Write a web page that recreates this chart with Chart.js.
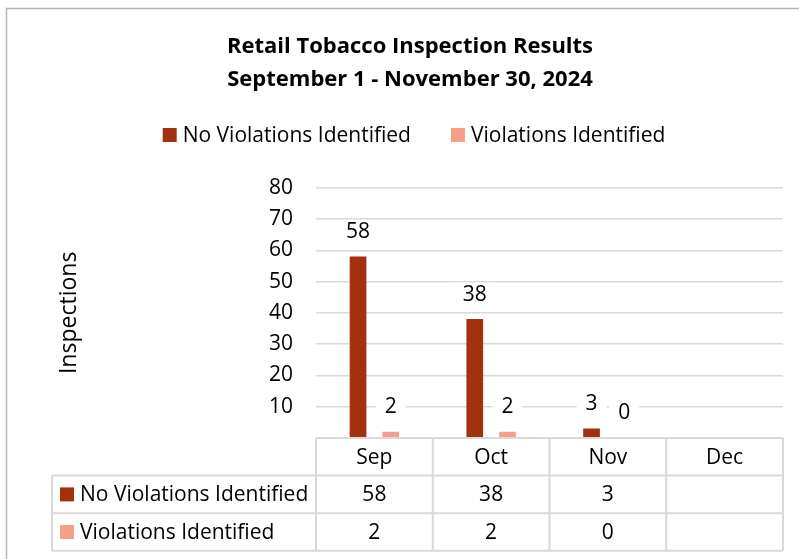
<!DOCTYPE html>
<html>
<head>
<meta charset="utf-8">
<script src="https://cdn.jsdelivr.net/npm/chart.js@4.4.1/dist/chart.umd.min.js"></script>
<style>
    html, body { margin: 0; padding: 0; background: #fff; }
    #wrap { width: 799px; height: 559px; position: relative; }
</style>
</head>
<body>
<div id="wrap"><canvas id="inspectionChart" width="799" height="559"></canvas></div>
<script>
// Datos del gráfico
const months = ['Sep', 'Oct', 'Nov', 'Dec'];
const noViolations = [58, 38, 3, null];
const violations = [2, 2, 0, null];
const seriesNames = ['No Violations Identified', 'Violations Identified'];
const seriesColors = ['#A3300F', '#F4A08A'];
const titleLines = ['Retail Tobacco Inspection Results', 'September 1 - November 30, 2024'];
const yTicks = [0, 10, 20, 30, 40, 50, 60, 70, 80];

const FONT = '"Open Sans", "Noto Sans", sans-serif';
const TXT = 21;
const GRID = '#d9d9d9';

// Borde exterior (solo arriba e izquierda visibles)
const frame = {
    id: 'frame',
    beforeDraw(chart) {
        const ctx = chart.ctx;
        ctx.save();
        ctx.strokeStyle = '#b3b3b3';
        ctx.lineWidth = 1.5;
        ctx.beginPath();
        ctx.moveTo(6.5, chart.height);
        ctx.lineTo(6.5, 8.5);
        ctx.lineTo(chart.width, 8.5);
        ctx.stroke();
        ctx.restore();
    }
};

// Leyenda superior dibujada a mano
const topLegend = {
    id: 'topLegend',
    afterDraw(chart) {
        const ctx = chart.ctx;
        ctx.save();
        ctx.font = TXT + 'px ' + FONT;
        ctx.textBaseline = 'middle';
        const box = 14, gap = 6, itemGap = 40, cy = 135;
        const widths = chart.data.datasets.map(ds => box + gap + ctx.measureText(ds.label).width);
        const total = widths.reduce((a, b) => a + b, 0) + itemGap;
        let x = 414 - total / 2;
        chart.data.datasets.forEach((ds, i) => {
            ctx.fillStyle = ds.backgroundColor;
            ctx.fillRect(x, cy - box / 2, box, box);
            ctx.fillStyle = '#000';
            ctx.textAlign = 'left';
            ctx.fillText(ds.label, x + box + gap, cy + 1);
            x += widths[i] + itemGap;
        });
        ctx.restore();
    }
};

// Etiquetas de valores sobre las barras
const valueLabels = {
    id: 'valueLabels',
    afterDatasetsDraw(chart) {
        const ctx = chart.ctx;
        ctx.save();
        ctx.font = TXT + 'px ' + FONT;
        ctx.textAlign = 'center';
        ctx.textBaseline = 'middle';
        const items = [];
        chart.data.datasets.forEach((ds, i) => {
            chart.getDatasetMeta(i).data.forEach((bar, j) => {
                const v = ds.data[j];
                if (v === null || v === undefined) return;
                items.push({ x: bar.x, y: bar.y - 25.5, text: String(v) });
            });
        });
        ctx.fillStyle = '#fff';
        items.forEach(it => {
            const w = ctx.measureText(it.text).width + 18;
            ctx.fillRect(it.x - w / 2, it.y - 11, w, 22);
        });
        ctx.fillStyle = '#000';
        items.forEach(it => ctx.fillText(it.text, it.x, it.y + 1));
        ctx.restore();
    }
};

// Tabla de datos bajo el gráfico
const dataTable = {
    id: 'dataTable',
    afterDraw(chart) {
        const ctx = chart.ctx;
        const area = chart.chartArea;
        const xs = chart.scales.x;
        const rowH = 37.6;
        const tableLeft = 52;
        const top = area.bottom;
        const band = (area.right - area.left) / chart.data.labels.length;
        const edges = chart.data.labels.map((_, i) => xs.getPixelForValue(i) - band / 2);
        edges.push(area.right);

        ctx.save();
        ctx.strokeStyle = GRID;
        ctx.lineWidth = 2;
        ctx.beginPath();
        // líneas horizontales
        ctx.moveTo(area.left, top); ctx.lineTo(area.right, top);
        for (let r = 1; r <= 3; r++) {
            ctx.moveTo(tableLeft, top + r * rowH);
            ctx.lineTo(area.right, top + r * rowH);
        }
        // líneas verticales
        edges.forEach(x => {
            ctx.moveTo(x, top); ctx.lineTo(x, top + 3 * rowH);
        });
        ctx.moveTo(tableLeft, top + rowH); ctx.lineTo(tableLeft, top + 3 * rowH);
        ctx.stroke();

        ctx.font = TXT + 'px ' + FONT;
        ctx.textBaseline = 'middle';
        ctx.fillStyle = '#000';
        ctx.textAlign = 'center';
        chart.data.labels.forEach((lab, i) => {
            ctx.fillText(lab, xs.getPixelForValue(i), top + rowH / 2 + 1);
        });
        chart.data.datasets.forEach((ds, r) => {
            const cy = top + (r + 1.5) * rowH;
            ctx.fillStyle = ds.backgroundColor;
            ctx.fillRect(60, cy - 7, 14, 14);
            ctx.fillStyle = '#000';
            ctx.textAlign = 'left';
            ctx.fillText(ds.label, 80, cy + 1);
            ctx.textAlign = 'center';
            ds.data.forEach((v, j) => {
                if (v === null || v === undefined) return;
                ctx.fillText(String(v), xs.getPixelForValue(j), cy + 1);
            });
        });
        ctx.restore();
    }
};

const ctx = document.getElementById('inspectionChart').getContext('2d');
const inspectionChart = new Chart(ctx, {
    type: 'bar',
    data: {
        labels: months,
        datasets: [
            {
                label: seriesNames[0],
                data: noViolations,
                backgroundColor: seriesColors[0],
                categoryPercentage: 0.56,
                barPercentage: 0.51
            },
            {
                label: seriesNames[1],
                data: violations,
                backgroundColor: seriesColors[1],
                categoryPercentage: 0.56,
                barPercentage: 0.51
            }
        ]
    },
    options: {
        responsive: false,
        animation: false,
        devicePixelRatio: 1,
        layout: {
            padding: { top: 0, left: 37, right: 16, bottom: 121 }
        },
        scales: {
            x: {
                display: false
            },
            y: {
                min: 0,
                max: 80,
                afterBuildTicks: scale => {
                    scale.ticks = yTicks.map(v => ({ value: v }));
                },
                afterFit: scale => {
                    scale.width = 279;
                },
                border: { display: false },
                grid: {
                    color: GRID,
                    lineWidth: 1.5,
                    drawTicks: false
                },
                ticks: {
                    padding: 23,
                    color: '#000',
                    font: { family: FONT, size: TXT },
                    callback: v => (v === 0 ? '' : v)
                },
                title: {
                    display: true,
                    text: 'Inspections',
                    color: '#000',
                    font: { family: FONT, size: 23 },
                    padding: { top: 19, bottom: 0 }
                }
            }
        },
        plugins: {
            legend: { display: false },
            tooltip: { enabled: false },
            title: {
                display: true,
                text: titleLines,
                color: '#000',
                font: { family: FONT, size: 22, weight: 'bold', lineHeight: 1.5 },
                padding: { top: 30.5, bottom: 91.2 }
            }
        }
    },
    plugins: [frame, topLegend, valueLabels, dataTable]
});
</script>
</body>
</html>
